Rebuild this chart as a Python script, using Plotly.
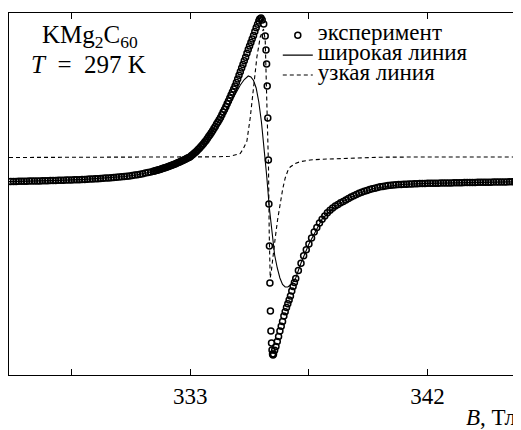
import plotly.graph_objects as go

# ---- experiment (B in mT, signal in arb. units) ----
exp_B = [
    326.2, 326.3, 326.4, 326.5, 326.6, 326.7, 326.8, 326.9, 327.0, 327.1,
    327.2, 327.3, 327.4, 327.5, 327.6, 327.7, 327.8, 327.9, 328.0, 328.1,
    328.2, 328.3, 328.4, 328.5, 328.6, 328.7, 328.8, 328.9, 329.0, 329.1,
    329.2, 329.3, 329.4, 329.5, 329.6, 329.7, 329.8, 329.9, 330.0, 330.1,
    330.2, 330.3, 330.4, 330.5, 330.6, 330.7, 330.8, 330.9, 331.0, 331.1,
    331.2, 331.3, 331.4, 331.5, 331.6,
    331.65, 331.70, 331.75, 331.80, 331.85, 331.90, 331.95, 332.00, 332.05, 332.10,
    332.15, 332.20, 332.25, 332.30, 332.35, 332.40, 332.45, 332.50, 332.55, 332.60,
    332.65, 332.70, 332.75, 332.80, 332.85, 332.90, 332.95, 333.00, 333.05, 333.10,
    333.15, 333.20, 333.25, 333.30, 333.35, 333.40, 333.45, 333.50, 333.55, 333.60,
    333.65, 333.70, 333.75, 333.80, 333.85, 333.90, 333.95, 334.00, 334.05, 334.10,
    334.15, 334.20, 334.25, 334.30, 334.35, 334.40, 334.45, 334.50, 334.55, 334.60,
    334.65, 334.70, 334.75, 334.80, 334.85, 334.90, 334.95, 335.00, 335.05, 335.10,
    335.15, 335.20, 335.25, 335.30, 335.35, 335.40, 335.45, 335.50, 335.55, 335.60,
    335.635, 335.684, 335.729, 335.786, 335.843, 335.873, 335.896, 335.919, 335.941, 335.964,
    335.983, 336.002, 336.021, 336.040, 336.059, 336.082, 336.101, 336.120, 336.139, 336.158,
    336.20, 336.25, 336.30, 336.35, 336.40, 336.45, 336.50, 336.55, 336.60, 336.65,
    336.70, 336.75, 336.80, 336.85, 336.90, 336.95, 337.00,
    337.1, 337.2, 337.3, 337.4, 337.5, 337.6, 337.7, 337.8, 337.9, 338.0,
    338.1, 338.2, 338.3, 338.4, 338.5, 338.6, 338.7, 338.8, 338.9, 339.0,
    339.1, 339.2, 339.3, 339.4, 339.5, 339.6, 339.7, 339.8, 339.9, 340.0,
    340.1, 340.2, 340.3, 340.4, 340.5, 340.6, 340.7, 340.8, 340.9, 341.0,
    341.1, 341.2, 341.3, 341.4, 341.5, 341.6, 341.7, 341.8, 341.9, 342.0,
    342.1, 342.2, 342.3, 342.4, 342.5, 342.6, 342.7, 342.8, 342.9, 343.0,
    343.1, 343.2, 343.3, 343.4, 343.5, 343.6, 343.7, 343.8, 343.9, 344.0,
    344.1, 344.2, 344.3, 344.4, 344.5, 344.6, 344.7, 344.8, 344.9, 345.0,
    345.1, 345.2, 345.3, 345.4, 345.5,
]
exp_signal = [
    -0.5, -0.45, -0.4, -0.35, -0.3, -0.2, -0.15, -0.1, -0.05, 0.0,
    0.05, 0.1, 0.15, 0.25, 0.3, 0.4, 0.5, 0.55, 0.65, 0.7,
    0.8, 0.9, 1.0, 1.1, 1.15, 1.25, 1.35, 1.5, 1.6, 1.75,
    1.9, 2.05, 2.2, 2.35, 2.5, 2.7, 2.9, 3.1, 3.3, 3.5,
    3.7, 3.9, 4.15, 4.5, 4.8, 5.1, 5.5, 5.9, 6.3, 6.8,
    7.3, 7.9, 8.5, 9.1, 9.8,
    10.0, 10.4, 10.8, 11.2, 11.6, 12.0, 12.4, 12.9, 13.3, 13.8,
    14.3, 14.8, 15.3, 15.8, 16.3, 16.8, 17.3, 17.9, 18.5, 19.0,
    19.7, 20.3, 20.9, 21.5, 22.2, 22.9, 23.6, 24.3, 25.4, 26.5,
    27.7, 28.8, 30.1, 31.4, 32.7, 34.2, 35.8, 37.3, 38.9, 40.6,
    42.4, 44.4, 46.2, 48.3, 50.3, 52.4, 54.5, 56.9, 59.1, 61.3,
    63.6, 66.2, 69.0, 71.6, 74.3, 77.2, 80.1, 82.9, 86.1, 89.1,
    92.1, 95.0, 98.5, 102.0, 105.8, 109.3, 112.9, 116.6, 120.2, 123.8,
    127.8, 131.4, 135.0, 138.6, 142.0, 145.6, 149.5, 153.2, 156.8, 160.0,
    162.0, 163.0, 161.0, 157.0, 145.0, 131.0, 117.0, 95.0, 63.0, 21.0,
    -23.0, -65.0, -102.0, -130.0, -150.0, -162.0, -169.0, -173.0, -174.0, -173.0,
    -169.3, -165.4, -160.5, -155.4, -150.1, -145.3, -140.4, -135.1, -130.8, -126.6,
    -122.7, -118.9, -114.9, -109.9, -105.6, -101.4, -97.5,
    -89.5, -82.2, -74.8, -68.8, -62.9, -56.9, -51.0, -46.4, -42.1, -38.2,
    -34.9, -31.8, -29.2, -27.1, -24.9, -23.4, -21.8, -20.4, -19.0, -17.5,
    -16.1, -14.7, -13.4, -12.3, -11.3, -10.3, -9.5, -8.6, -7.8, -7.2,
    -6.5, -5.8, -5.4, -5.0, -4.6, -4.3, -4.1, -3.8, -3.6, -3.45,
    -3.3, -3.2, -3.05, -2.95, -2.8, -2.7, -2.6, -2.5, -2.45, -2.35,
    -2.3, -2.25, -2.2, -2.15, -2.1, -2.05, -2.0, -1.95, -1.9, -1.85,
    -1.8, -1.7, -1.65, -1.6, -1.55, -1.5, -1.45, -1.4, -1.35, -1.3,
    -1.25, -1.2, -1.2, -1.15, -1.1, -1.05, -1.0, -1.0, -0.95, -0.9,
    -0.85, -0.8, -0.8, -0.75, -0.7,
]

# ---- broad line fit ----
broad_B = [
    326.13, 327.0, 328.0, 329.0, 330.0, 330.5, 331.0, 331.5, 332.0, 332.5,
    333.0, 333.3, 333.6, 333.9, 334.2, 334.5, 334.7, 334.9, 335.05, 335.2,
    335.3, 335.4, 335.5, 335.6, 335.7, 335.8, 335.9, 336.0, 336.1, 336.2,
    336.3, 336.4, 336.5, 336.6, 336.7, 336.8, 336.9, 337.0, 337.2, 337.5,
    338.0, 338.5, 339.0, 339.5, 340.0, 341.0, 342.0, 343.0, 344.0, 345.54,
]
broad_signal = [
    -0.6, -0.2, 0.6, 1.6, 3.2, 4.5, 6.3, 9.0, 12.8, 17.8,
    24.0, 31.5, 41.0, 52.5, 65.0, 77.0, 87.0, 96.0, 101.5, 105.0,
    104.0, 100.5, 93.0, 79.0, 59.0, 33.0, 5.0, -27.0, -52.0, -74.0,
    -87.0, -97.0, -103.5, -106.0, -106.0, -104.0, -101.0, -97.0, -82.0, -63.0,
    -38.0, -25.0, -17.5, -11.3, -7.2, -3.5, -2.4, -1.9, -1.3, -0.7,
]

# ---- narrow line fit (shifted baseline) ----
narrow_B = [
    326.13, 328.0, 330.0, 332.0, 333.0, 333.5, 334.0, 334.5, 334.895, 335.009,
    335.149, 335.274, 335.400, 335.528, 335.654, 335.779, 335.843, 335.908, 335.968, 335.995,
    336.014, 336.033, 336.071, 336.127, 336.222, 336.317, 336.412, 336.506, 336.601, 336.696,
    336.791, 336.980, 337.170, 337.549, 337.928, 338.307, 338.686, 339.331, 340.203, 341.719,
    345.548,
]
narrow_signal = [
    23.5, 23.5, 23.5, 23.7, 23.8, 24.0, 24.2, 24.7, 27.5, 32.0,
    40.0, 63.0, 97.0, 124.0, 144.0, 152.0, 141.0, 81.0, 14.0, -52.0,
    -89.0, -97.0, -91.0, -77.0, -57.0, -38.0, -22.0, -8.0, 3.0, 10.0,
    14.0, 17.5, 19.3, 21.0, 21.7, 22.1, 22.5, 23.5, 23.8, 24.0,
    24.0,
]

tick_vals = [328.5, 333, 337.5, 342]
tick_text = ["", "333", "", "342"]

FONT = "Liberation Serif"
BIG = 23
LEG = 23
TITLE = 25


def span(s, size):
    return '<span style="font-size:%dpx">%s</span>' % (size, s)


fig = go.Figure()
fig.add_trace(go.Scatter(
    x=exp_B, y=exp_signal, mode="markers", name=span("эксперимент", LEG),
    marker=dict(symbol="circle-open", size=6, color="black",
                line=dict(width=1.5, color="black")),
))
fig.add_trace(go.Scatter(
    x=broad_B, y=broad_signal, mode="lines", name=span("широкая линия", LEG),
    line=dict(color="black", width=1.1),
))
fig.add_trace(go.Scatter(
    x=narrow_B, y=narrow_signal, mode="lines", name=span("узкая линия", LEG),
    line=dict(color="black", width=1.1, dash="4px,3px"),
))

# page body has an 8px margin: the figure is sized/positioned to compensate
fig.update_layout(
    width=513, height=422,
    margin=dict(l=1, r=0, t=5, b=55),
    paper_bgcolor="white", plot_bgcolor="white",
    font=dict(family=FONT, size=BIG, color="black"),
    showlegend=True,
    legend=dict(
        x=0.525, y=0.98, xanchor="left", yanchor="top",
        bgcolor="rgba(0,0,0,0)", borderwidth=0,
        font=dict(family=FONT, size=13, color="black"),
        tracegroupgap=0,
    ),
    xaxis=dict(
        range=[326.13, 345.54],
        tickvals=tick_vals, ticktext=tick_text,
        ticks="inside", ticklen=6, tickwidth=1, tickcolor="black",
        showline=True, linecolor="black", linewidth=1, mirror="ticks",
        showgrid=False, zeroline=False,
        tickfont=dict(family=FONT, size=BIG, color="black"),
    ),
    yaxis=dict(
        range=[-194, 168],
        showticklabels=False, ticks="",
        showline=True, linecolor="black", linewidth=1, mirror=False,
        showgrid=False, zeroline=False,
    ),
    annotations=[
        dict(text="KMg<sub>2</sub>C<sub>60</sub>", xref="paper", yref="paper",
             x=0.158, y=0.935, xanchor="center", yanchor="middle",
             showarrow=False, font=dict(family=FONT, size=TITLE, color="black")),
        dict(text="<i>T</i>\u2002=\u2002297 K", xref="paper", yref="paper",
             x=0.156, y=0.857, xanchor="center", yanchor="middle",
             showarrow=False, font=dict(family=FONT, size=TITLE, color="black")),
        dict(text="<i>B</i>, Тл", xref="paper", yref="paper",
             x=0.995, y=-0.117, xanchor="right", yanchor="middle",
             showarrow=False, font=dict(family=FONT, size=BIG, color="black")),
    ],
)

fig.write_html("out.html", config={"displayModeBar": False})
